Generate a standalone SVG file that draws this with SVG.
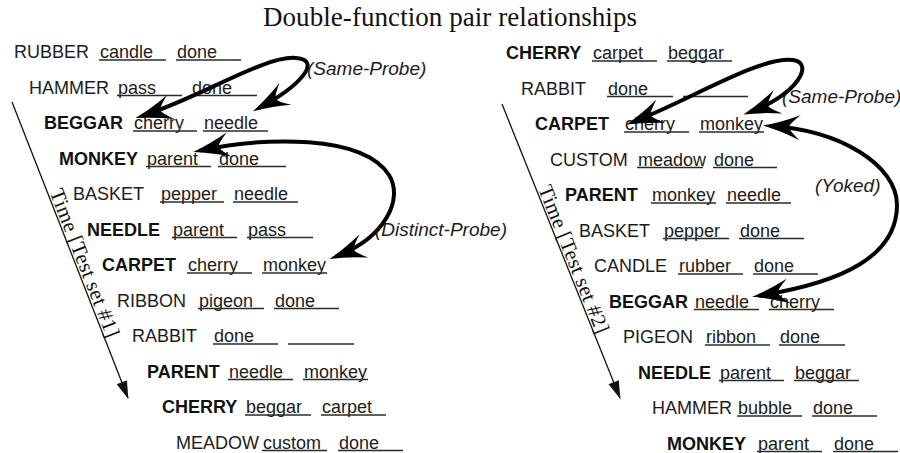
<svg xmlns="http://www.w3.org/2000/svg" width="900" height="453" viewBox="0 0 900 453">
<style>
.t{font-family:"Liberation Sans",Arial,sans-serif;font-size:18px;fill:#1c1c1c}
.b{font-weight:bold;fill:#111}
.u{stroke:#2a2a2a;stroke-width:1.4}
.lab{font-family:"Liberation Sans",Arial,sans-serif;font-size:19px;font-style:italic;fill:#1c1c1c}
.arc{fill:none;stroke:#000;stroke-width:4;marker-start:url(#head);marker-end:url(#head)}
.axis{fill:none;stroke:#111;stroke-width:1.3;marker-end:url(#tip)}
.tm{font-family:"Liberation Serif","Times New Roman",serif;font-size:21px;fill:#111}
</style>
<defs>
<marker id="head" viewBox="-34 -14 44 28" refX="0" refY="0" markerWidth="44" markerHeight="28" markerUnits="userSpaceOnUse" orient="auto-start-reverse">
<path d="M7,0 Q-10,-4 -30,-12.5 Q-19,-3 -19,0 Q-19,3 -30,12.5 Q-10,4 7,0 Z" fill="#000"/>
</marker>
<marker id="tip" viewBox="-18 -6 20 12" refX="0" refY="0" markerWidth="20" markerHeight="12" markerUnits="userSpaceOnUse" orient="auto">
<path d="M1,0 L-17,-5.5 L-17,5.5 Z" fill="#111"/>
</marker>
</defs>
<rect width="900" height="453" fill="#fff"/>
<text id="title" x="450" y="26" text-anchor="middle" font-family="Liberation Serif,'Times New Roman',serif" font-size="27" fill="#111" textLength="374" lengthAdjust="spacing">Double-function pair relationships</text>

<g id="axis1">
<path class="axis" d="M12,102 L128,398"/>
<text class="tm" transform="translate(49.5,192) rotate(68.6)" textLength="158" lengthAdjust="spacing">Time [Test set #1]</text>
</g>
<g id="axis2">
<path class="axis" d="M502,104 L620,398"/>
<text class="tm" transform="translate(538,188.5) rotate(68.1)" textLength="158" lengthAdjust="spacing">Time [Test set #2]</text>
</g>

<g id="set1">
<g id="l0"><text class="t" x="14" y="58">RUBBER</text><text class="t" x="100" y="58">candle</text><text class="t" x="177" y="58">done</text><line class="u" x1="99" y1="60" x2="166" y2="60"/><line class="u" x1="176" y1="60" x2="241" y2="60"/></g>
<g id="l1"><text class="t" x="29" y="93.5">HAMMER</text><text class="t" x="118" y="93.5">pass</text><text class="t" x="192" y="93.5">done</text><line class="u" x1="117" y1="95.5" x2="182" y2="95.5"/><line class="u" x1="190" y1="95.5" x2="257" y2="95.5"/></g>
<g id="l2"><text class="t b" x="44" y="129">BEGGAR</text><text class="t" x="134" y="129">cherry</text><text class="t" x="204" y="129">needle</text><line class="u" x1="133" y1="131" x2="197" y2="131"/><line class="u" x1="203" y1="131" x2="268" y2="131"/></g>
<g id="l3"><text class="t b" x="59" y="164.5">MONKEY</text><text class="t" x="147" y="164.5">parent</text><text class="t" x="219" y="164.5">done</text><line class="u" x1="146" y1="166.5" x2="211" y2="166.5"/><line class="u" x1="218" y1="166.5" x2="286" y2="166.5"/></g>
<g id="l4"><text class="t" x="73" y="200">BASKET</text><text class="t" x="161" y="200">pepper</text><text class="t" x="234" y="200">needle</text><line class="u" x1="160" y1="202" x2="224" y2="202"/><line class="u" x1="233" y1="202" x2="298" y2="202"/></g>
<g id="l5"><text class="t b" x="87" y="235.5">NEEDLE</text><text class="t" x="173" y="235.5">parent</text><text class="t" x="248" y="235.5">pass</text><line class="u" x1="172" y1="237.5" x2="237" y2="237.5"/><line class="u" x1="247" y1="237.5" x2="313" y2="237.5"/></g>
<g id="l6"><text class="t b" x="102" y="271">CARPET</text><text class="t" x="188" y="271">cherry</text><text class="t" x="263" y="271">monkey</text><line class="u" x1="187" y1="273" x2="252" y2="273"/><line class="u" x1="262" y1="273" x2="327" y2="273"/></g>
<g id="l7"><text class="t" x="117" y="306.5">RIBBON</text><text class="t" x="199" y="306.5">pigeon</text><text class="t" x="275" y="306.5">done</text><line class="u" x1="198" y1="308.5" x2="264" y2="308.5"/><line class="u" x1="274" y1="308.5" x2="339" y2="308.5"/></g>
<g id="l8"><text class="t" x="132" y="342">RABBIT</text><text class="t" x="214" y="342">done</text><line class="u" x1="213" y1="344" x2="278" y2="344"/><line class="u" x1="288" y1="344" x2="354" y2="344"/></g>
<g id="l9"><text class="t b" x="147" y="377.5">PARENT</text><text class="t" x="229" y="377.5">needle</text><text class="t" x="304" y="377.5">monkey</text><line class="u" x1="228" y1="379.5" x2="293" y2="379.5"/><line class="u" x1="303" y1="379.5" x2="368" y2="379.5"/></g>
<g id="l10"><text class="t b" x="162" y="413">CHERRY</text><text class="t" x="246" y="413">beggar</text><text class="t" x="322" y="413">carpet</text><line class="u" x1="245" y1="415" x2="311" y2="415"/><line class="u" x1="321" y1="415" x2="386" y2="415"/></g>
<g id="l11"><text class="t" x="176" y="448.5">MEADOW</text><text class="t" x="263" y="448.5">custom</text><text class="t" x="339" y="448.5">done</text><line class="u" x1="262" y1="450.5" x2="327" y2="450.5"/><line class="u" x1="338" y1="450.5" x2="403" y2="450.5"/></g>
</g>

<g id="set2">
<g id="r0"><text class="t b" x="506" y="59">CHERRY</text><text class="t" x="593" y="59">carpet</text><text class="t" x="668" y="59">beggar</text><line class="u" x1="592" y1="61" x2="657" y2="61"/><line class="u" x1="667" y1="61" x2="732" y2="61"/></g>
<g id="r1"><text class="t" x="521" y="94.5">RABBIT</text><text class="t" x="608" y="94.5">done</text><line class="u" x1="607" y1="96.5" x2="673" y2="96.5"/><line class="u" x1="683" y1="96.5" x2="748" y2="96.5"/></g>
<g id="r2"><text class="t b" x="535" y="130">CARPET</text><text class="t" x="625" y="130">cherry</text><text class="t" x="700" y="130">monkey</text><line class="u" x1="624" y1="132" x2="689" y2="132"/><line class="u" x1="699" y1="132" x2="764" y2="132"/></g>
<g id="r3"><text class="t" x="550" y="165.5">CUSTOM</text><text class="t" x="638" y="165.5">meadow</text><text class="t" x="714" y="165.5">done</text><line class="u" x1="637" y1="167.5" x2="703" y2="167.5"/><line class="u" x1="713" y1="167.5" x2="777" y2="167.5"/></g>
<g id="r4"><text class="t b" x="565" y="201">PARENT</text><text class="t" x="652" y="201">monkey</text><text class="t" x="727" y="201">needle</text><line class="u" x1="651" y1="203" x2="716" y2="203"/><line class="u" x1="726" y1="203" x2="791" y2="203"/></g>
<g id="r5"><text class="t" x="579" y="236.5">BASKET</text><text class="t" x="664" y="236.5">pepper</text><text class="t" x="740" y="236.5">done</text><line class="u" x1="663" y1="238.5" x2="729" y2="238.5"/><line class="u" x1="739" y1="238.5" x2="804" y2="238.5"/></g>
<g id="r6"><text class="t" x="594" y="272">CANDLE</text><text class="t" x="679" y="272">rubber</text><text class="t" x="754" y="272">done</text><line class="u" x1="678" y1="274" x2="743" y2="274"/><line class="u" x1="753" y1="274" x2="818" y2="274"/></g>
<g id="r7"><text class="t b" x="609" y="307.5">BEGGAR</text><text class="t" x="695" y="307.5">needle</text><text class="t" x="770" y="307.5">cherry</text><line class="u" x1="694" y1="309.5" x2="759" y2="309.5"/><line class="u" x1="769" y1="309.5" x2="834" y2="309.5"/></g>
<g id="r8"><text class="t" x="623" y="343">PIGEON</text><text class="t" x="706" y="343">ribbon</text><text class="t" x="780" y="343">done</text><line class="u" x1="705" y1="345" x2="770" y2="345"/><line class="u" x1="779" y1="345" x2="845" y2="345"/></g>
<g id="r9"><text class="t b" x="638" y="378.5">NEEDLE</text><text class="t" x="720" y="378.5">parent</text><text class="t" x="795" y="378.5">beggar</text><line class="u" x1="719" y1="380.5" x2="784" y2="380.5"/><line class="u" x1="794" y1="380.5" x2="859" y2="380.5"/></g>
<g id="r10"><text class="t" x="652" y="414">HAMMER</text><text class="t" x="738" y="414">bubble</text><text class="t" x="813" y="414">done</text><line class="u" x1="737" y1="416" x2="802" y2="416"/><line class="u" x1="812" y1="416" x2="877" y2="416"/></g>
<g id="r11"><text class="t b" x="667" y="449.5">MONKEY</text><text class="t" x="758" y="449.5">parent</text><text class="t" x="834" y="449.5">done</text><line class="u" x1="757" y1="451.5" x2="822" y2="451.5"/><line class="u" x1="833" y1="451.5" x2="898" y2="451.5"/></g>
</g>

<g id="connectors">
<path id="same1" class="arc" d="M142,116 C200,98 265,55 296,58 C322,60 302,85 259,108"/>
<path id="distinct1" class="arc" d="M200,150.5 C265,137 362,134 389,175 C404,199 385,238 336,256.5"/>
<path id="same2" class="arc" d="M633,122 C690,100 760,56 793,60 C815,63 797,95 750,112"/>
<path id="yoked2" class="arc" d="M770,126 C840,130 897,165 897,205 C897,255 845,282 759,295.7"/>
<text class="lab" x="307" y="75">(Same-Probe)</text>
<text class="lab" x="375" y="236">(Distinct-Probe)</text>
<text class="lab" x="782" y="103">(Same-Probe)</text>
<text class="lab" x="815" y="192">(Yoked)</text>
</g>
</svg>
